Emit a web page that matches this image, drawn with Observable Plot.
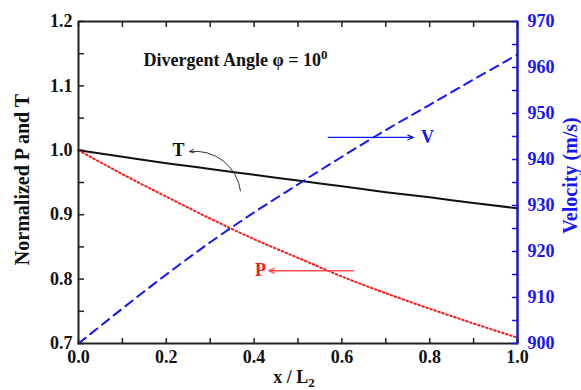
<!DOCTYPE html>
<html>
<head>
<meta charset="utf-8">
<script src="https://cdn.jsdelivr.net/npm/d3@7"></script>
<script src="https://cdn.jsdelivr.net/npm/@observablehq/plot@0.6"></script>
<style>
  html, body { margin: 0; padding: 0; background: #fff; }
  #chart svg, #chart svg text { font-family: "Liberation Serif", "Times New Roman", serif !important; font-weight: bold; }
</style>
</head>
<body>
<div id="chart"></div>
<script>
// ---- data ----
const xPos = [0, 0.1, 0.2, 0.3, 0.4, 0.5, 0.6, 0.7, 0.8, 0.9, 1.0];
const tempT = [1.000, 0.990, 0.980, 0.971, 0.962, 0.953, 0.944, 0.935, 0.927, 0.918, 0.910];
const pressP = [1.000, 0.963, 0.928, 0.894, 0.862, 0.833, 0.804, 0.778, 0.754, 0.731, 0.709];
const velV = [900.0, 907.6, 915.0, 922.0, 928.5, 934.6, 940.6, 946.4, 951.9, 957.4, 962.8];

const xTicks = [0, 0.1, 0.2, 0.3, 0.4, 0.5, 0.6, 0.7, 0.8, 0.9, 1.0];
const xTickLabels = [0, 0.2, 0.4, 0.6, 0.8, 1.0];
const yTicks = [0.7, 0.75, 0.8, 0.85, 0.9, 0.95, 1.0, 1.05, 1.1, 1.15, 1.2];
const yTickLabels = [0.7, 0.8, 0.9, 1.0, 1.1, 1.2];
const vTicks = [900, 905, 910, 915, 920, 925, 930, 935, 940, 945, 950, 955, 960, 965, 970];
const vTickLabels = [900, 910, 920, 930, 940, 950, 960, 970];

// secondary (velocity) axis mapped onto the primary y domain
const vScale = d3.scaleLinear([900, 970], [0.7, 1.2]);

const tData = xPos.map((x, i) => ({x, y: tempT[i]}));
const pData = xPos.map((x, i) => ({x, y: pressP[i]}));
const vData = xPos.map((x, i) => ({x, y: vScale(velV[i])}));

const BLUE = "#1414ff";
const RED = "#ff1a1a";

const chart = Plot.plot({
  width: 581,
  height: 390,
  marginLeft: 78,
  marginRight: 64,
  marginTop: 21,
  marginBottom: 47,
  x: {domain: [0, 1]},
  y: {domain: [0.7, 1.2]},
  marks: [
    // data lines
    Plot.line(tData, {x: "x", y: "y", stroke: "#111", strokeWidth: 2, curve: "monotone-x"}),
    Plot.line(pData, {x: "x", y: "y", stroke: RED, strokeWidth: 2, strokeDasharray: "1.6,2.6", curve: "monotone-x"}),
    Plot.line(vData, {x: "x", y: "y", stroke: BLUE, strokeWidth: 2, strokeDasharray: "9,6", curve: "monotone-x"}),

    // frame
    Plot.frame({stroke: "#222", strokeWidth: 2}),
    Plot.ruleX([1], {stroke: BLUE, strokeWidth: 2}),

    // bottom axis (inward ticks + labels)
    Plot.axisX(xTicks, {anchor: "bottom", tickSize: 5, dy: -5, text: null, stroke: "#222", strokeWidth: 1.5, label: null}),
    Plot.axisX(xTickLabels, {anchor: "bottom", tickSize: 0, tickPadding: 7, tickFormat: d3.format(".1f"), fontSize: 18, fill: "#111", label: null}),
    // top ticks
    Plot.axisX(xTicks, {anchor: "top", tickSize: 5, dy: 5, text: null, stroke: "#222", strokeWidth: 1.5, label: null}),
    // left axis
    Plot.axisY(yTicks, {anchor: "left", tickSize: 6, dx: 6, text: null, stroke: "#222", strokeWidth: 1.5, label: null}),
    Plot.axisY(yTickLabels, {anchor: "left", tickSize: 0, tickPadding: 6, tickFormat: d3.format(".1f"), fontSize: 18, fill: "#111", label: null}),
    // right (velocity) axis
    Plot.axisY(vTicks.map(vScale), {anchor: "right", tickSize: 6, dx: -6, text: null, stroke: BLUE, strokeWidth: 1.5, label: null}),
    Plot.axisY(vTickLabels.map(vScale), {anchor: "right", tickSize: 0, tickPadding: 10, tickFormat: d => String(Math.round(vScale.invert(d))), fontSize: 18, fill: BLUE, label: null}),

    // axis titles
    Plot.text(["Normalized P and T"], {x: 0, y: 0.95, textAnchor: "middle", dx: -56, dy: -3, rotate: -90, fontSize: 20, fill: "#111"}),
    Plot.text(["Velocity (m/s)"], {x: 1, y: 0.95, textAnchor: "middle", dx: 53, dy: -7, rotate: -90, fontSize: 20, fill: BLUE}),
    Plot.text(["x / L"], {x: 0.5, y: 0.7, dy: 34, dx: -4, fontSize: 18, fill: "#111", className: "xlab"}),

    // annotations
    Plot.text(["Divergent Angle \u03c6 = 10"], {x: 0.148, y: 1.14, textAnchor: "start", fontSize: 18, fill: "#111", className: "title"}),
    Plot.text(["T"], {x: 0.228, y: 1.0, fontSize: 18, fill: "#111"}),
    Plot.arrow([0], {x1: 0.369, y1: 0.937, x2: 0.253, y2: 0.998, bend: -45, stroke: "#333", strokeWidth: 1, headLength: 7, headAngle: 45}),
    Plot.arrow([0], {x1: 0.569, y1: vScale(944.8), x2: 0.763, y2: vScale(944.8), stroke: BLUE, strokeWidth: 1.3, headLength: 7, headAngle: 45}),
    Plot.text(["V"], {x: 0.795, y: vScale(944.8), fontSize: 18, fill: BLUE}),
    Plot.arrow([0], {x1: 0.626, y1: 0.813, x2: 0.433, y2: 0.813, stroke: "#ff4d4d", strokeWidth: 1.3, headLength: 7, headAngle: 45}),
    Plot.text(["P"], {x: 0.4146, y: 0.813, fontSize: 18, fill: RED})
  ]
});

// superscript "0" in the title and subscript "2" in the x label, as real text
function appendScript(selector, str, dy, size) {
  const t = chart.querySelector(selector + " text");
  if (!t) return;
  const ts = document.createElementNS("http://www.w3.org/2000/svg", "tspan");
  ts.setAttribute("dy", dy);
  ts.setAttribute("font-size", size);
  ts.textContent = str;
  t.appendChild(ts);
}
appendScript("g.title", "0", "-0.55em", "13");
appendScript("g.xlab", "2", "0.25em", "13");

document.getElementById("chart").appendChild(chart);
</script>
</body>
</html>
